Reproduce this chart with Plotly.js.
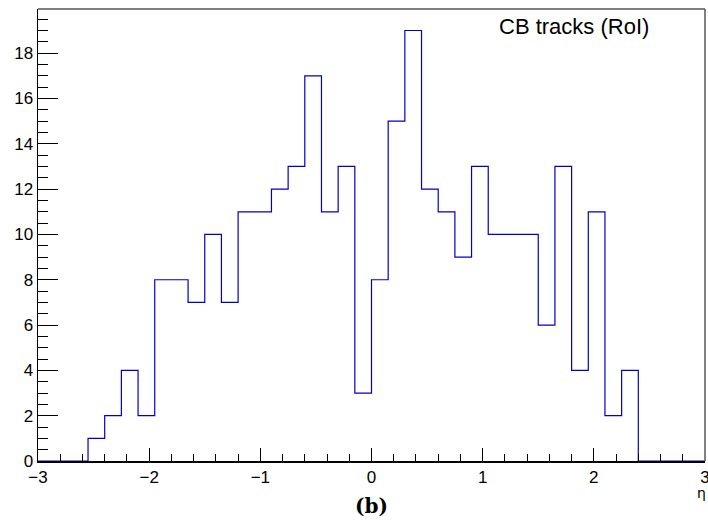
<!DOCTYPE html>
<html>
<head>
<meta charset="utf-8">
<script src="https://cdn.plot.ly/plotly-3.0.1.min.js"></script>
<style>
  html, body { margin: 0; padding: 0; background: #fff; }
  #chart { width: 708px; height: 523px; }
</style>
</head>
<body>
<div id="chart"></div>
<script>
// Histogram bin edges (eta), 40 bins from -3 to 3
const binEdges = [-3.00, -2.85, -2.70, -2.55, -2.40, -2.25, -2.10, -1.95, -1.80, -1.65,
                  -1.50, -1.35, -1.20, -1.05, -0.90, -0.75, -0.60, -0.45, -0.30, -0.15,
                   0.00,  0.15,  0.30,  0.45,  0.60,  0.75,  0.90,  1.05,  1.20,  1.35,
                   1.50,  1.65,  1.80,  1.95,  2.10,  2.25,  2.40,  2.55,  2.70,  2.85, 3.00];
// Counts per bin
const counts = [0, 0, 0, 1, 2, 4, 2, 8, 8, 7,
                10, 7, 11, 11, 12, 13, 17, 11, 13, 3,
                8, 15, 19, 12, 11, 9, 13, 10, 10, 10,
                6, 13, 4, 11, 2, 4, 0, 0, 0, 0];
const histLabel = "CB tracks (RoI)";
const xTitle = "η";
const panelLabel = "(b)";

// step outline: each bin's left edge with its count, plus final right edge
const xs = binEdges.slice();
const ys = counts.concat([counts[counts.length - 1]]);

const trace = {
  x: xs, y: ys, type: 'scatter', mode: 'lines',
  line: { shape: 'hv', color: '#0000c8', width: 1.2 },
  hoverinfo: 'skip', showlegend: false, cliponaxis: false
};

const tickFont = { family: 'Liberation Sans, Arial, sans-serif', size: 17, color: '#000' };

const layout = {
  width: 708, height: 523,
  margin: { l: 38, r: 3, t: 9, b: 62, pad: 0 },
  paper_bgcolor: '#fff', plot_bgcolor: '#fff',
  showlegend: false,
  xaxis: {
    range: [-3, 3], showgrid: false, zeroline: false,
    showline: true, linecolor: '#000', linewidth: 1.5,
    ticks: 'inside', ticklen: 13, tickwidth: 1, tickcolor: '#000',
    tick0: -3, dtick: 1, tickfont: tickFont, ticklabeloverflow: 'allow',
    minor: { ticks: 'inside', ticklen: 7, dtick: 0.2, tick0: -3, tickcolor: '#000', tickwidth: 1, showgrid: false }
  },
  yaxis: {
    range: [0, 19.95], showgrid: false, zeroline: false,
    showline: true, linecolor: '#000', linewidth: 1.5,
    ticks: 'inside', ticklen: 20, tickwidth: 1, tickcolor: '#000',
    tick0: 0, dtick: 2, tickfont: tickFont, ticklabeloverflow: 'allow',
    minor: { ticks: 'inside', ticklen: 10, dtick: 0.5, tick0: 0, tickcolor: '#000', tickwidth: 1, showgrid: false }
  },
  shapes: [
    { type: 'line', xref: 'paper', yref: 'paper', x0: 0, x1: 1, y0: 1, y1: 1, line: { color: '#555', width: 1.5 } },
    { type: 'line', xref: 'paper', yref: 'paper', x0: 1, x1: 1, y0: 0, y1: 1, line: { color: '#555', width: 1.5 } }
  ],
  annotations: [
    { text: histLabel, xref: 'paper', yref: 'paper', x: 0.688, y: 0.962, xanchor: 'left', yanchor: 'middle',
      showarrow: false, font: { family: 'Liberation Sans, Arial, sans-serif', size: 22, color: '#000' } },
    { text: xTitle, xref: 'paper', yref: 'paper', x: 0.995, y: -0.07, xanchor: 'center', yanchor: 'middle',
      showarrow: false, font: { family: 'DejaVu Sans, sans-serif', size: 14, color: '#000' } },
    { text: '<b>' + panelLabel + '</b>', xref: 'paper', yref: 'paper', x: 0.5, y: -0.1, xanchor: 'center', yanchor: 'middle',
      showarrow: false, font: { family: 'DejaVu Serif, Liberation Serif, serif', size: 20, color: '#000' } }
  ]
};

Plotly.newPlot('chart', [trace], layout, { staticPlot: true, displayModeBar: false });
</script>
</body>
</html>
